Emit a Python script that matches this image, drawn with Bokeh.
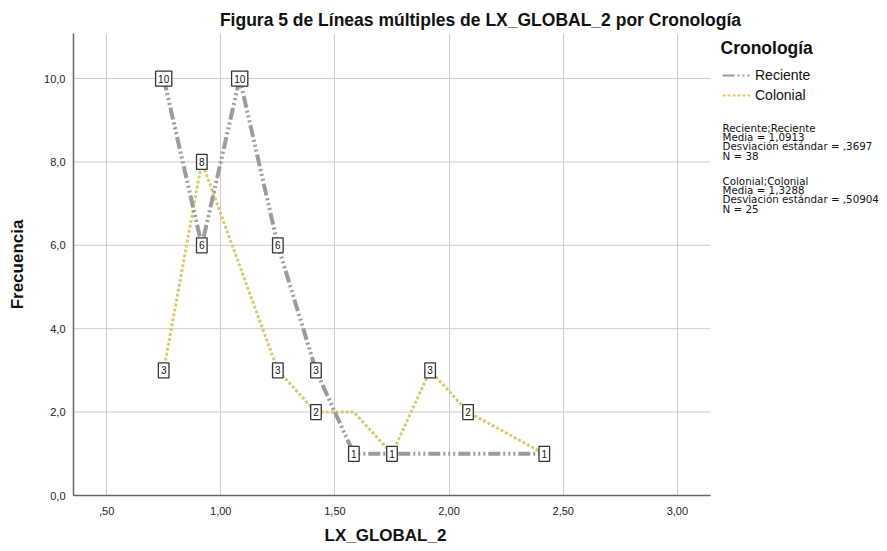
from bokeh.plotting import figure
from bokeh.models import (ColumnDataSource, FixedTicker, Range1d, Label, Legend,
                          LegendItem, Title)
from bokeh.core.properties import value
from bokeh.embed import file_html
from bokeh.resources import INLINE

# ---- data ----
x_reciente = [0.75, 0.917, 1.083, 1.25, 1.417, 1.583, 1.75, 2.417]
y_reciente = [10, 6, 10, 6, 3, 1, 1, 1]
x_colonial = [0.75, 0.917, 1.25, 1.417, 1.583, 1.75, 1.917, 2.083, 2.417]
y_colonial = [3, 8, 3, 2, 2, 1, 3, 2, 1]
colonial_label_shown = [True, True, True, True, False, False, True, True, False]

series_names = ["Reciente", "Colonial"]
x_ticks = [0.5, 1.0, 1.5, 2.0, 2.5, 3.0]
x_tick_labels = [",50", "1,00", "1,50", "2,00", "2,50", "3,00"]
y_ticks = [0, 2, 4, 6, 8, 10]
y_tick_labels = ["0,0", "2,0", "4,0", "6,0", "8,0", "10,0"]

title_text = "Figura 5 de Líneas múltiples de LX_GLOBAL_2 por Cronología"
x_label = "LX_GLOBAL_2"
y_label = "Frecuencia"
legend_title = "Cronología"
stats_blocks = [
    ["Reciente;Reciente", "Media = 1,0913", "Desviación estándar = ,3697", "N = 38"],
    ["Colonial;Colonial", "Media = 1,3288", "Desviación estándar = ,50904", "N = 25"],
]

FONT = "Liberation Sans"
GRAY = "#9b9b9b"
YELLOW = "#d6cb74"
GRAY_DASH = "12 3 2 3 2 3 2 3"
YELLOW_DASH = "3 2"

# ---- geometry (page px): data area left 73, right 710, top 33, bottom 495;
# the frame continues to the right edge to hold legend and statistics
W, H = 887, 551
X0, X1 = 0.355, 3.145
Y0, Y1 = 0.0, 11.08
px_per_x = (710 - 73) / (X1 - X0)
x_end = X1 + (W - 710) / px_per_x

p = figure(width=W, height=H, output_backend="svg", toolbar_location=None,
           x_range=Range1d(X0, x_end), y_range=Range1d(Y0, Y1),
           min_border_left=73, min_border_right=0,
           min_border_top=33, min_border_bottom=H - 495)
p.outline_line_color = None
p.background_fill_color = "white"
p.border_fill_color = "white"

p.title.text = title_text
p.title.align = "center"
p.title.offset = -4
p.title.standoff = 8
p.title.text_font = FONT
p.title.text_font_size = "17.5px"
p.title.text_font_style = "bold"
p.title.text_color = "#111111"

# axes
p.xaxis.ticker = FixedTicker(ticks=x_ticks)
p.yaxis.ticker = FixedTicker(ticks=y_ticks)
p.xaxis.major_label_overrides = {t: l for t, l in zip(x_ticks, x_tick_labels)}
p.yaxis.major_label_overrides = {t: l for t, l in zip(y_ticks, y_tick_labels)}
p.xaxis.bounds = (X0, X1)
for ax in (p.xaxis[0], p.yaxis[0]):
    ax.major_tick_line_color = None
    ax.minor_tick_line_color = None
    ax.axis_line_color = "#666666"
    ax.axis_line_width = 1.5
    ax.major_label_text_font = FONT
    ax.major_label_text_font_size = "11px"
    ax.major_label_text_color = "#222222"
p.xaxis.major_label_standoff = 5
p.yaxis.major_label_standoff = 2
p.yaxis.axis_label = y_label
p.yaxis.axis_label_text_font = FONT
p.yaxis.axis_label_text_font_style = "bold"
p.yaxis.axis_label_text_color = "#111111"
p.yaxis.axis_label_text_font_size = "17px"
p.yaxis.axis_label_standoff = 14

# x axis title, centred under the data area
xl = Title(text=x_label, align="left", offset=329 - 73 - 5, standoff=12,
           text_font=FONT, text_font_size="17px", text_font_style="bold",
           text_color="#111111")
p.add_layout(xl, "below")

# grid
p.xgrid.grid_line_color = "#cccccc"
p.ygrid.visible = False
n = len(y_ticks)
p.segment(x0=[X0] * n, y0=y_ticks, x1=[X1] * n, y1=y_ticks,
          line_color="#cccccc", line_width=1, level="underlay")

# series
src_r = ColumnDataSource(dict(x=x_reciente, y=y_reciente))
src_c = ColumnDataSource(dict(x=x_colonial, y=y_colonial))
p.line("x", "y", source=src_c, line_color=YELLOW, line_width=3,
       line_dash=YELLOW_DASH)
p.line("x", "y", source=src_r, line_color=GRAY, line_width=4,
       line_dash=GRAY_DASH)

lab_x = list(x_reciente) + [x for x, s in zip(x_colonial, colonial_label_shown) if s]
lab_y = list(y_reciente) + [y for y, s in zip(y_colonial, colonial_label_shown) if s]
lab_t = [str(v) for v in lab_y]
lab_w = [5 + 5.6 * len(t) for t in lab_t]
src_lab = ColumnDataSource(dict(x=lab_x, y=lab_y, t=lab_t, w=lab_w))
p.rect(x="x", y="y", width="w", height=15, width_units="screen",
       height_units="screen", source=src_lab, fill_color="white",
       line_color="#333333", line_width=1.3)
p.text(x="x", y="y", text="t", source=src_lab, text_align="center",
       text_baseline="middle", text_font=value(FONT), text_font_size="10px",
       text_color="#111111")

# ---- legend (thin sample lines, as in the original) ----
# zero-length proxies: nothing visible in the plot, only in the legend
leg_r = p.line(x=[X0, X0], y=[Y0, Y0], line_color=GRAY, line_width=2,
               line_dash=GRAY_DASH)
leg_c = p.line(x=[X0, X0], y=[Y0, Y0], line_color=YELLOW, line_width=2,
               line_dash=YELLOW_DASH)


def sx(X):
    return X - 73


def sy(Y):
    return 495 - Y


p.add_layout(Label(x=sx(720), y=sy(47), x_units="screen", y_units="screen",
                   text=legend_title, text_align="left", text_baseline="middle",
                   text_font=FONT, text_font_size="17.5px",
                   text_font_style="bold", text_color="#111111"))

legend = Legend(items=[LegendItem(label=series_names[0], renderers=[leg_r]),
                       LegendItem(label=series_names[1], renderers=[leg_c])],
                location=(sx(722), sy(105)),
                glyph_width=28, glyph_height=20, label_height=20,
                label_standoff=5, spacing=0, padding=0, margin=0,
                label_text_font=FONT, label_text_font_size="14px",
                label_text_color="#111111",
                border_line_color=None, background_fill_alpha=0)
p.add_layout(legend, "center")

# ---- statistics ----
block_tops = [127, 180]
for top, block in zip(block_tops, stats_blocks):
    for i, line in enumerate(block):
        p.add_layout(Label(x=sx(722), y=sy(top + 9.4 * i), x_units="screen",
                           y_units="screen", text=line, text_align="left",
                           text_baseline="middle", text_font="DejaVu Sans",
                           text_font_size="10.3px", text_color="#111111"))

open("out.html", "w").write(file_html(p, INLINE))
